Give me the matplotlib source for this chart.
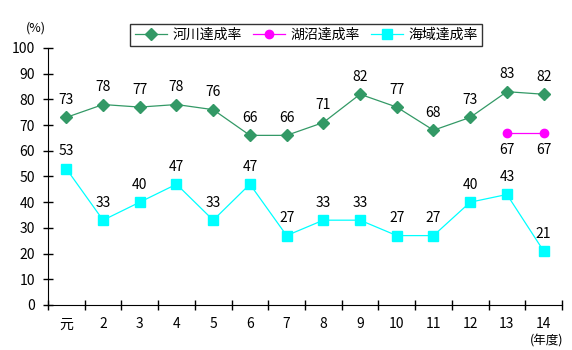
import numpy as np
import matplotlib.pyplot as plt

plt.rcParams['font.family'] = ['Noto Sans CJK JP', 'DejaVu Sans']

years = ['元', '2', '3', '4', '5', '6', '7', '8', '9', '10', '11', '12', '13', '14']
river = [73, 78, 77, 78, 76, 66, 66, 71, 82, 77, 68, 73, 83, 82]
lake = [np.nan] * 12 + [67, 67]
sea = [53, 33, 40, 47, 33, 47, 27, 33, 33, 27, 27, 40, 43, 21]

x = np.arange(len(years))

fig = plt.figure(figsize=(5.72, 3.5), dpi=100)
ax = fig.add_axes([0.0839, 0.1286, 0.8986, 0.7343])

ax.plot(x, river, color='#339966', lw=0.9, marker='D', ms=6, label='河川達成率')
ax.plot(x, lake, color='#ff00ff', lw=0.9, marker='o', ms=6, label='湖沼達成率')
ax.plot(x, sea, color='#00ffff', lw=0.9, marker='s', ms=6.5, label='海域達成率')

fs = 10
for i, v in enumerate(river):
    ax.text(x[i], v + 4, str(v), ha='center', va='bottom', fontsize=fs)
for i, v in enumerate(lake):
    if not np.isnan(v):
        ax.text(x[i], v - 4, str(int(v)), ha='center', va='top', fontsize=fs)
for i, v in enumerate(sea):
    ax.text(x[i], v + 4, str(v), ha='center', va='bottom', fontsize=fs)

ax.set_xlim(-0.5, len(years) - 0.5)
ax.set_ylim(0, 100)
ax.set_yticks(range(0, 101, 10))
ax.set_xticks(x)
ax.set_xticklabels(years, fontsize=fs)
ax.set_xticks(np.arange(-0.5, len(years), 1), minor=True)
ax.tick_params(axis='x', which='major', length=0, pad=9)
ax.tick_params(axis='x', which='minor', direction='inout', length=7, width=1)
ax.tick_params(axis='y', direction='inout', length=7, width=1, labelsize=fs, pad=6)
for s in ['top', 'right']:
    ax.spines[s].set_visible(False)

fig.text(0.062, 0.92, '(%)', fontsize=9, ha='center', va='center')
fig.text(0.955, 0.025, '(年度)', fontsize=9, ha='center', va='center')

leg = fig.legend(loc='center', bbox_to_anchor=(0.535, 0.9), ncol=3, fontsize=10,
                 frameon=True, fancybox=False, edgecolor='black', handlelength=2.3,
                 columnspacing=0.8, handletextpad=0.4, borderpad=0.3)
leg.get_frame().set_linewidth(1)

fig.savefig('out.png', dpi=100)
